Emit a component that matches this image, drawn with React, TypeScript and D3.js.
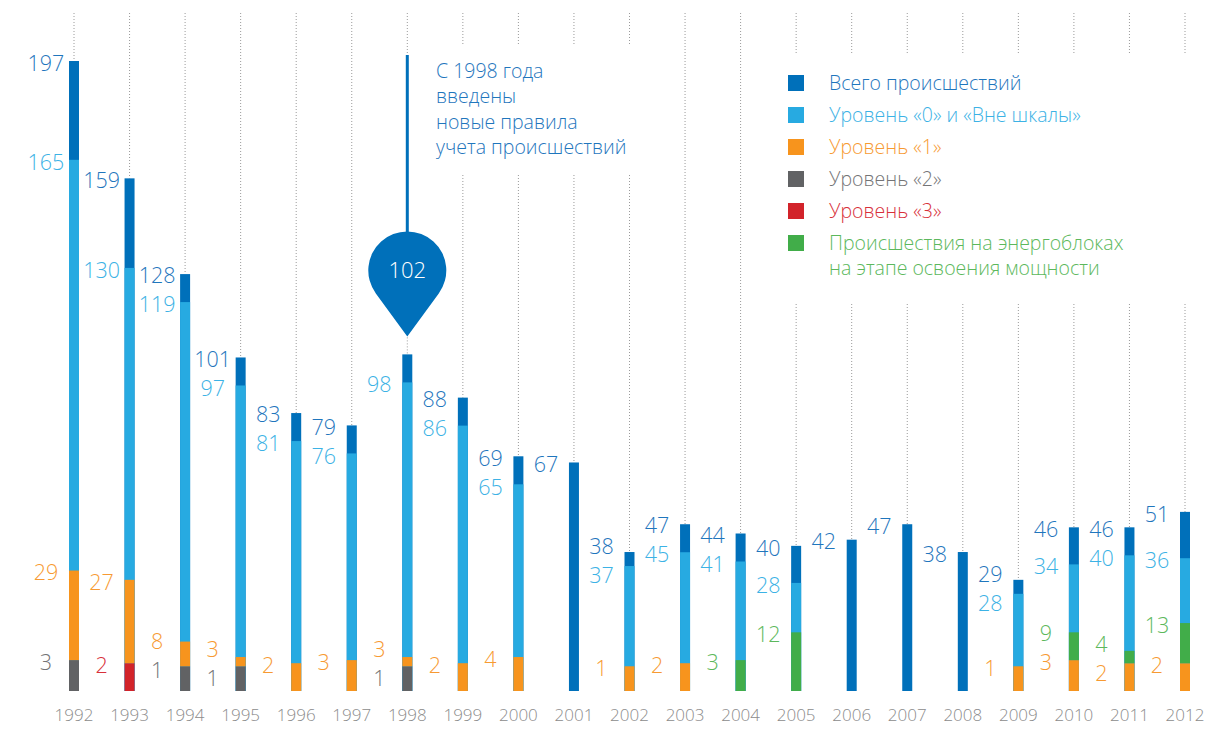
import React from 'react';
import * as d3 from 'd3';

const years = [1992, 1993, 1994, 1995, 1996, 1997, 1998, 1999, 2000, 2001, 2002, 2003, 2004, 2005, 2006, 2007, 2008, 2009, 2010, 2011, 2012];
const totalIncidents = [197, 159, 128, 101, 83, 79, 102, 88, 69, 67, 38, 47, 44, 40, 42, 47, 38, 29, 46, 46, 51];
const level0 = [165, 130, 119, 97, 81, 76, 98, 86, 65, null, 37, 45, 41, 28, null, null, null, 28, 34, 40, 36];
const level1 = [29, 27, 8, 3, 2, 3, 3, 2, 4, null, 1, 2, null, null, null, null, null, 1, 3, 2, 2];
const level2 = [3, null, 1, 1, null, null, 1, null, null, null, null, null, null, null, null, null, null, null, null, null, null];
const level3 = [null, 2, null, null, null, null, null, null, null, null, null, null, null, null, null, null, null, null, null, null, null];
const startupUnits = [null, null, null, null, null, null, null, null, null, null, null, null, 3, 12, null, null, null, null, 9, 4, 13];

const legendLabels = [
  ['Всего происшествий'],
  ['Уровень «0» и «Вне шкалы»'],
  ['Уровень «1»'],
  ['Уровень «2»'],
  ['Уровень «3»'],
  ['Происшествия на энергоблоках', 'на этапе освоения мощности'],
];
const annotationLines = ['С 1998 года', 'введены', 'новые правила', 'учета происшествий'];
const highlightYear = 1998;

const BAR = { total: '#0070ba', l0: '#27aae1', l1: '#f7941d', l2: '#616264', l3: '#d2232a', green: '#41ad49' };
const TXT = { total: '#1f76bd', l0: '#3cb2e5', l1: '#f79a32', l2: '#747476', l3: '#d8303a', green: '#5cb85c' };
const legendKeys = ['total', 'l0', 'l1', 'l2', 'l3', 'green'];

const FONT = '"Open Sans", "Lato", sans-serif';

type Lab = { value: number; color: string; d: number; y?: number };

function spread(items: Lab[], gap: number, maxY: number) {
  items.sort((a, b) => a.d - b.d);
  let clusters = items.map((it) => ({ items: [it], center: it.d }));
  let merged = true;
  while (merged) {
    merged = false;
    for (let k = 0; k < clusters.length - 1; k++) {
      const a = clusters[k];
      const b = clusters[k + 1];
      const aBottom = a.center + ((a.items.length - 1) * gap) / 2;
      const bTop = b.center - ((b.items.length - 1) * gap) / 2;
      if (bTop - aBottom < gap) {
        const its = a.items.concat(b.items);
        const center = d3.mean(its, (it) => it.d) as number;
        clusters.splice(k, 2, { items: its, center });
        merged = true;
        break;
      }
    }
  }
  clusters.forEach((c) => {
    let start = c.center - ((c.items.length - 1) * gap) / 2;
    const end = start + (c.items.length - 1) * gap;
    if (end > maxY) start -= end - maxY;
    c.items.forEach((it, j) => (it.y = start + j * gap));
  });
  return items;
}

export default function App() {
  const W = 1214;
  const H = 731;
  const x = d3.scalePoint<string>().domain(years.map(String)).range([74, 1185]);
  const y = d3.scaleLinear().domain([-7, 197]).range([691, 61]);
  const base = y.range()[0];
  const bw = 10;
  const labelDx = -28;

  const bars: JSX.Element[] = [];
  const dots: JSX.Element[] = [];
  const labels: JSX.Element[] = [];
  let pin: JSX.Element | null = null;

  years.forEach((yr, i) => {
    const cx = x(String(yr)) as number;
    const tot = totalIncidents[i];
    const topT = y(tot);
    const labs: Lab[] = [];

    if (yr === highlightYear) {
      const tip = topT - 18;
      const r = 39;
      const dist = 66;
      const cy = tip - dist;
      const th = Math.asin(r / dist);
      const p = d3.path();
      p.moveTo(cx, tip);
      p.lineTo(cx - r * Math.cos(th), cy + r * Math.sin(th));
      p.arc(cx, cy, r, Math.PI - th, th, false);
      p.closePath();
      dots.push(<line key={'d' + yr} x1={cx} x2={cx} y1={13} y2={56} stroke="#9a9a9a" strokeWidth={1} strokeDasharray="1 2" />);
      dots.push(<line key={'d2' + yr} x1={cx} x2={cx} y1={tip + 1} y2={topT} stroke="#9a9a9a" strokeWidth={1} strokeDasharray="1 2" />);
      pin = (
        <g key="pin">
          <line x1={cx} x2={cx} y1={55} y2={cy - r + 2} stroke={BAR.total} strokeWidth={3} />
          <path d={p.toString()} fill={BAR.total} />
          <text x={cx} y={cy} dy="0.35em" textAnchor="middle" fill="#fff" fontSize={22} fontWeight={300} fontFamily={FONT}>
            {tot}
          </text>
        </g>
      );
    } else {
      dots.push(<line key={'d' + yr} x1={cx} x2={cx} y1={13} y2={topT} stroke="#9a9a9a" strokeWidth={1} strokeDasharray="1 2" />);
      labs.push({ value: tot, color: TXT.total, d: topT + 2 });
    }

    bars.push(<rect key={'t' + yr} x={cx - bw / 2} y={topT} width={bw} height={base - topT} fill={BAR.total} />);

    const l0 = level0[i];
    if (l0 != null) {
      const diff = tot - l0;
      const capPx = Math.max(y(l0) - topT, 14 * Math.min(diff, 2));
      const lightTop = topT + capPx;
      bars.push(<rect key={'l0' + yr} x={cx - bw / 2} y={lightTop} width={bw} height={base - lightTop} fill={BAR.l0} />);
      labs.push({ value: l0, color: TXT.l0, d: lightTop + 2 });
    }

    const stack: [number | null, string][] = [
      [level2[i], 'l2'],
      [level3[i], 'l3'],
      [level1[i], 'l1'],
      [startupUnits[i], 'green'],
    ];
    let cum = 0;
    stack.forEach(([v, k]) => {
      if (v == null) return;
      const bottom = cum === 0 ? base : y(cum);
      const top = y(cum + v);
      cum += v;
      bars.push(
        <rect key={k + yr} x={cx - bw / 2} y={top} width={bw} height={bottom - top} fill={(BAR as any)[k]} />
      );
      labs.push({ value: v, color: (TXT as any)[k], d: top + 2 });
    });

    spread(labs, 29, 678).forEach((lb, j) => {
      labels.push(
        <text key={'lb' + yr + '_' + j} x={cx + labelDx} y={lb.y} dy="0.36em" textAnchor="middle" fill={lb.color} fontSize={21.5} fontWeight={300} fontFamily={FONT}>
          {lb.value}
        </text>
      );
    });
  });

  return (
    <svg width={W} height={H} style={{ position: 'absolute', left: 0, top: 0, background: '#fff' }} fontFamily={FONT}>
      <rect width={W} height={H} fill="#fff" />
      {dots}
      <rect x={425} y={46} width={230} height={128} fill="#fff" />
      <rect x={770} y={54} width={444} height={248} fill="#fff" />
      {bars}
      {pin}
      {labels}
      {years.map((yr) => (
        <text key={'yr' + yr} x={x(String(yr))} y={715} dy="0.35em" textAnchor="middle" fill="#8c8c8c" fontSize={17} fontWeight={300}>
          {yr}
        </text>
      ))}
      {annotationLines.map((t, k) => (
        <text key={'an' + k} x={436} y={71 + k * 25.5} dy="0.35em" fill={TXT.total} fontSize={19.5} fontWeight={300}>
          {t}
        </text>
      ))}
      {legendLabels.map((lines, k) => {
        const key = legendKeys[k];
        const cy = 83 + k * 32;
        return (
          <g key={'lg' + k}>
            <rect x={788} y={cy - 8} width={16} height={16} fill={(BAR as any)[key]} />
            {lines.map((t, m) => (
              <text key={m} x={829} y={cy + m * 25.5} dy="0.35em" fill={(TXT as any)[key]} fontSize={19.5} fontWeight={300}>
                {t}
              </text>
            ))}
          </g>
        );
      })}
    </svg>
  );
}
